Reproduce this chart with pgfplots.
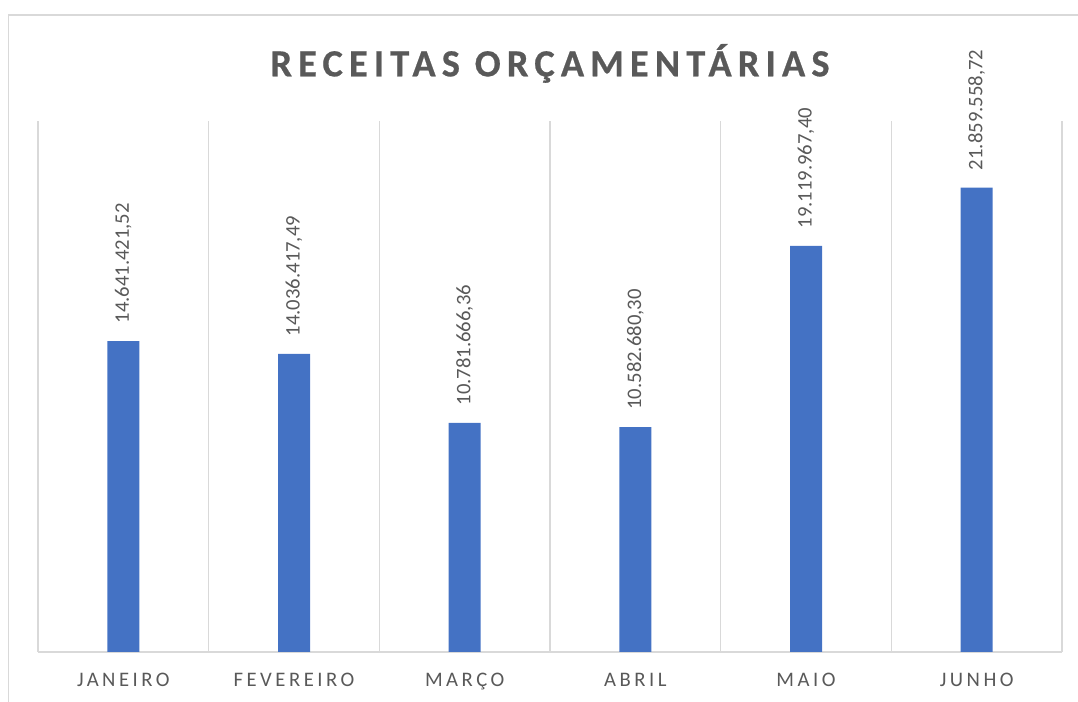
\documentclass[border=0pt]{standalone}
\usepackage{fontspec}
\setmainfont{Carlito}
\newfontfamily\spaced[LetterSpace=17]{Carlito}
\newfontfamily\titlefont[LetterSpace=16, FakeBold=0.6]{Carlito Bold}
\usepackage{pgfplots}
\usepackage{pgfplotstable}
\pgfplotsset{compat=1.18}
\definecolor{barblue}{HTML}{4472C4}
\definecolor{txtgray}{HTML}{595959}
\definecolor{gridgray}{HTML}{D9D9D9}
\pgfplotstableread{
x y label
0 14641421.52 14.641.421,52
1 14036417.49 14.036.417,49
2 10781666.36 10.781.666,36
3 10582680.30 10.582.680,30
4 19119967.40 19.119.967,40
5 21859558.72 21.859.558,72
}\receitas
\begin{document}
\begin{tikzpicture}
\useasboundingbox (0,0) rectangle (808.5pt,526.5pt);
\draw[gridgray, line width=1pt] (6.4pt,0) -- (6.4pt,515.25pt) -- (808.5pt,515.25pt);
\begin{axis}[
  at={(28.5pt,37.5pt)}, anchor=south west,
  scale only axis,
  width=768pt, height=398.25pt,
  xmin=-0.5, xmax=5.5,
  ymin=0, ymax=25000000,
  axis x line*=bottom,
  axis y line=none,
  x axis line style={draw=gridgray, line width=0.8pt},
  xtick={0,1,2,3,4,5},
  xticklabels={JANEIRO,FEVEREIRO,MARÇO,ABRIL,MAIO,JUNHO},
  xticklabel style={font=\spaced\fontsize{15.5}{18}\selectfont, text=txtgray, anchor=base, yshift=-26.25pt},
  major tick length=0pt,
  minor tick length=0pt,
  minor xtick={-0.5,0.5,1.5,2.5,3.5,4.5,5.5},
  minor x grid style={draw=gridgray, line width=0.8pt},
  xminorgrids=true,
  title={\titlefont\fontsize{28.8}{32}\selectfont RECEITAS ORÇAMENTÁRIAS},
  title style={at={(0.5,1)}, anchor=base, yshift=27.5pt, text=txtgray, inner sep=0pt},
  clip=false,
]
\addplot[ybar, bar width=24pt, fill=barblue, draw=none,
  point meta=explicit symbolic,
  nodes near coords,
  nodes near coords style={rotate=90, anchor=west, inner xsep=13pt, inner ysep=0pt,
    font=\fontsize{15.5}{18}\selectfont, text=txtgray}]
  table[x=x, y=y, meta=label] {\receitas};
\end{axis}
\end{tikzpicture}
\end{document}
